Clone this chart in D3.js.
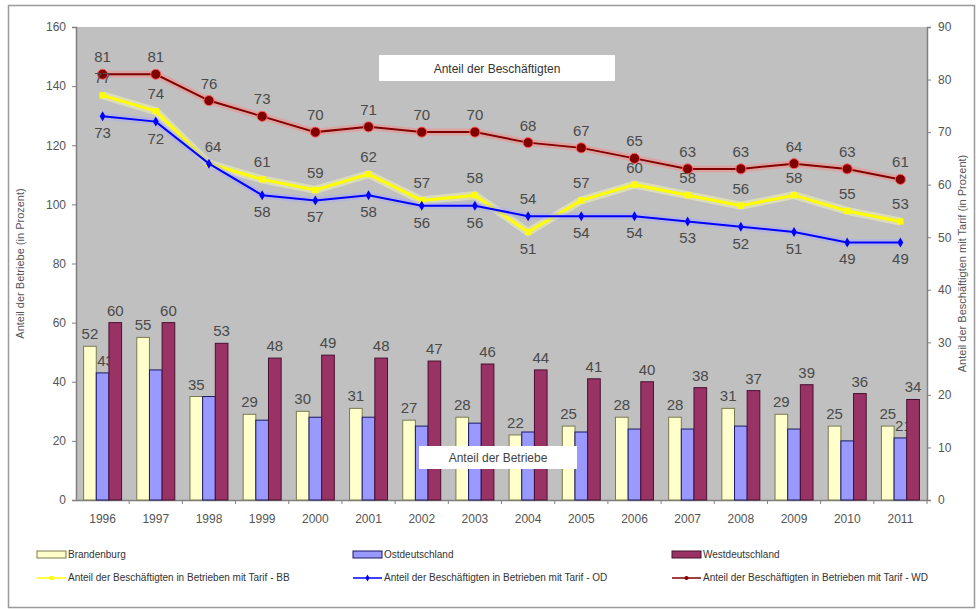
<!DOCTYPE html>
<html lang="de">
	<head>
		<meta charset="utf-8">
		<title>Tarifbindung 1996-2011</title>
		<script src="https://cdn.jsdelivr.net/npm/d3@7"></script>
		<style type="text/css">
			body { margin: 0; background: white; }
			text { font-family: "Liberation Sans", Arial, sans-serif; }
		</style>
	</head>
	<body>
		<script type="text/javascript" charset="utf-8">

		//data
		var years = ['1996','1997','1998','1999','2000','2001','2002','2003','2004','2005','2006','2007','2008','2009','2010','2011']
		// Anteil der Betriebe (bars, left axis)
		var brandenburg = [52,55,35,29,30,31,27,28,22,25,28,28,31,29,25,25]
		var ostdeutschland = [43,44,35,27,28,28,25,26,23,23,24,24,25,24,20,21]
		var westdeutschland = [60,60,53,48,49,48,47,46,44,41,40,38,37,39,36,34]
		// Anteil der Beschaeftigten mit Tarif (lines, right axis)
		var tarifBB = [77,74,64,61,59,62,57,58,51,57,60,58,56,58,55,53]
		var tarifOD = [73,72,64,58,57,58,56,56,54,54,54,53,52,51,49,49]
		var tarifWD = [81,81,76,73,70,71,70,70,68,67,65,63,63,64,63,61]
		var leftTicks = [0,20,40,60,80,100,120,140,160]
		var rightTicks = [0,10,20,30,40,50,60,70,80,90]
		var ostLabelYears = ['1996','2011']

		var canvas = d3.select('body').append('svg').attr('width',979).attr('height',610)

		// outer frame
		canvas.append('rect')
			.attr('x',8.5).attr('y',5.5).attr('width',966).attr('height',602)
			.attr('fill','white').attr('stroke','#9a9a9a').attr('stroke-width',1.5)

		// plot box (window.top is reserved, so use own names)
		var pL = 76, pR = 927, pT = 27, pB = 500

		var x = d3.scaleBand().domain(years).range([pL,pR]).padding(0)
		var xs = d3.scaleBand().domain(['BB','OD','WD']).range([0,x.bandwidth()]).paddingInner(0).paddingOuter(0.6)
		var yL = d3.scaleLinear().domain([0,160]).range([pB,pT])
		var yR = d3.scaleLinear().domain([0,90]).range([pB,pT])

		//////////////////////////////////////////////////////////////////////////
		///////////////////////////// PLOT AREA //////////////////////////////////
		//////////////////////////////////////////////////////////////////////////
		canvas.append('rect')
			.attr('x',pL).attr('y',pT).attr('width',pR-pL).attr('height',pB-pT)
			.attr('fill','#c0c0c0')

		// axes
		canvas.append('g').attr('transform','translate('+pL+',0)')
			.call(d3.axisLeft(yL).tickValues(leftTicks).tickSize(4).tickPadding(6))
		canvas.append('g').attr('transform','translate('+pR+',0)')
			.call(d3.axisRight(yR).tickValues(rightTicks).tickSize(4).tickPadding(7))
		var axB = canvas.append('g').attr('transform','translate(0,'+pB+')')
			.call(d3.axisBottom(x).tickSize(0).tickPadding(14))
		axB.selectAll('.tick').append('line')
			.attr('x1',x.bandwidth()/2).attr('x2',x.bandwidth()/2)
			.attr('y1',0).attr('y2',4)
		canvas.selectAll('.domain').attr('stroke','#808080').attr('stroke-width',1.5)
		canvas.selectAll('.tick line').attr('stroke','#808080')
		canvas.selectAll('.tick text').attr('font-size',12).attr('fill','#555')
			.attr('font-family','"Liberation Sans", Arial, sans-serif')

		// axis titles
		canvas.append('text')
			.attr('transform','translate(24,'+((pT+pB)/2)+') rotate(-90)')
			.attr('text-anchor','middle').attr('font-size',11).attr('fill','#555')
			.text('Anteil der Betriebe (in Prozent)')
		canvas.append('text')
			.attr('transform','translate(966,'+((pT+pB)/2)+') rotate(-90)')
			.attr('text-anchor','middle').attr('font-size',11).attr('fill','#555')
			.text('Anteil der Beschäftigten mit Tarif (in Prozent)')

		//////////////////////////////////////////////////////////////////////////
		/////////////////////////////// BARS /////////////////////////////////////
		//////////////////////////////////////////////////////////////////////////
		var barSeries = [
			{key:'BB', name:'Brandenburg', values:brandenburg, fill:'#ffffcc', stroke:'#7a7a50'},
			{key:'OD', name:'Ostdeutschland', values:ostdeutschland, fill:'#9999ff', stroke:'#1a1a66'},
			{key:'WD', name:'Westdeutschland', values:westdeutschland, fill:'#993366', stroke:'#4a1030'}
		]

		barSeries.forEach(function(s){
			var g = canvas.append('g')
			var pts = s.values.map(function(v,i){return {v:v, i:i}})
			g.selectAll('rect').data(pts).enter().append('rect')
				.attr('x',function(d){return x(years[d.i]) + xs(s.key)})
				.attr('y',function(d){return yL(d.v)})
				.attr('width',xs.bandwidth())
				.attr('height',function(d){return pB - yL(d.v)})
				.attr('fill',s.fill)
				.attr('stroke',s.stroke)
				.attr('stroke-width',1)
			var shown = pts.filter(function(d){return s.key != 'OD' || ostLabelYears.indexOf(years[d.i]) >= 0})
			g.selectAll('text').data(shown).enter().append('text')
				.attr('x',function(d){return x(years[d.i]) + xs(s.key) + xs.bandwidth()/2 + (s.key=='OD' ? 3 : 0)})
				.attr('y',function(d){return yL(d.v) - 7})
				.attr('text-anchor','middle')
				.attr('font-size',15)
				.attr('fill','#4a4a4a')
				.text(function(d){return d.v})
		})

		// label boxes
		canvas.append('rect').attr('x',379).attr('y',55).attr('width',236).attr('height',26).attr('fill','white')
		canvas.append('text').attr('x',497).attr('y',73).attr('text-anchor','middle').attr('font-size',12).attr('fill','#333')
			.text('Anteil der Beschäftigten')
		canvas.append('rect').attr('x',419).attr('y',446).attr('width',158).attr('height',23).attr('fill','white')
		canvas.append('text').attr('x',498).attr('y',462).attr('text-anchor','middle').attr('font-size',12).attr('fill','#444')
			.text('Anteil der Betriebe')

		//////////////////////////////////////////////////////////////////////////
		/////////////////////////////// LINES ////////////////////////////////////
		//////////////////////////////////////////////////////////////////////////
		var cx = function(i){return x(years[i]) + x.bandwidth()/2}
		var line = d3.line().x(function(d,i){return cx(i)}).y(function(d){return yR(d)})
		var symbolOf = function(m){return m=='circle' ? d3.symbolCircle : m=='square' ? d3.symbolSquare : d3.symbolDiamond}

		var lineSeries = [
			{key:'BB', values:tarifBB, color:'#ffff00', glow:'#ffffb0', width:3, marker:'square', r:3.5,
				name:'Anteil der Beschäftigten in Betrieben mit Tarif - BB'},
			{key:'OD', values:tarifOD, color:'#0000ff', glow:'#a8a8ff', width:2, marker:'diamond', r:3,
				name:'Anteil der Beschäftigten in Betrieben mit Tarif - OD'},
			{key:'WD', values:tarifWD, color:'#800000', glow:'#ff8080', width:2, marker:'circle', r:5,
				name:'Anteil der Beschäftigten in Betrieben mit Tarif - WD'}
		]

		lineSeries.forEach(function(s){
			var g = canvas.append('g')
			g.append('path').attr('d',line(s.values)).attr('fill','none')
				.attr('stroke',s.glow).attr('stroke-width',s.width+5).attr('stroke-opacity',0.45)
			g.append('path').attr('d',line(s.values)).attr('fill','none')
				.attr('stroke',s.color).attr('stroke-width',s.width)
			g.selectAll('path.m').data(s.values).enter().append('path')
				.attr('class','m')
				.attr('transform',function(d,i){return 'translate('+cx(i)+','+yR(d)+')'})
				.attr('d',d3.symbol().type(symbolOf(s.marker)).size(s.r*s.r*3.2))
				.attr('fill',s.color)
				.attr('stroke',s.key=='WD' ? '#ff6060' : 'none')
				.attr('stroke-width',1)
		})

		// line value labels: above, except where the line lies below the other one
		function labelY(s, i){
			var v = s.values[i]
			if (s.key == 'WD') return yR(v) - 12
			if (s.key == 'BB') return tarifBB[i] < tarifOD[i] ? yR(v) + 22 : yR(v) - 12
			return tarifOD[i] > tarifBB[i] ? yR(v) - 12 : yR(v) + 22
		}
		lineSeries.forEach(function(s){
			var pts = s.values.map(function(v,i){return {v:v, i:i}})
				.filter(function(d){return !(s.key=='OD' && tarifOD[d.i]==tarifBB[d.i])})
			canvas.append('g').selectAll('text').data(pts).enter().append('text')
				.attr('x',function(d){return cx(d.i) + (s.key=='BB' && tarifBB[d.i]==tarifOD[d.i] ? 4 : 0)})
				.attr('y',function(d){return labelY(s,d.i)})
				.attr('text-anchor','middle')
				.attr('font-size',15)
				.attr('fill','#4a4a4a')
				.text(function(d){return d.v})
		})

		//////////////////////////////////////////////////////////////////////////
		////////////////////////////// LEGEND ////////////////////////////////////
		//////////////////////////////////////////////////////////////////////////
		var legendX = [37,353,672]
		var legend = canvas.append('g')
		barSeries.forEach(function(s,i){
			legend.append('rect').attr('x',legendX[i]).attr('y',551).attr('width',29).attr('height',7)
				.attr('fill',s.fill).attr('stroke',s.stroke)
			legend.append('text').attr('x',legendX[i]+31).attr('y',558).attr('font-size',10).attr('fill','#333').text(s.name)
		})
		lineSeries.forEach(function(s,i){
			legend.append('line').attr('x1',legendX[i]).attr('x2',legendX[i]+29).attr('y1',578).attr('y2',578)
				.attr('stroke',s.color).attr('stroke-width',1.5)
			legend.append('path').attr('transform','translate('+(legendX[i]+14.5)+',578)')
				.attr('d',d3.symbol().type(symbolOf(s.marker)).size(14))
				.attr('fill',s.color)
			legend.append('text').attr('x',legendX[i]+31).attr('y',581).attr('font-size',10).attr('fill','#333').text(s.name)
		})

		</script>
	</body>
</html>
